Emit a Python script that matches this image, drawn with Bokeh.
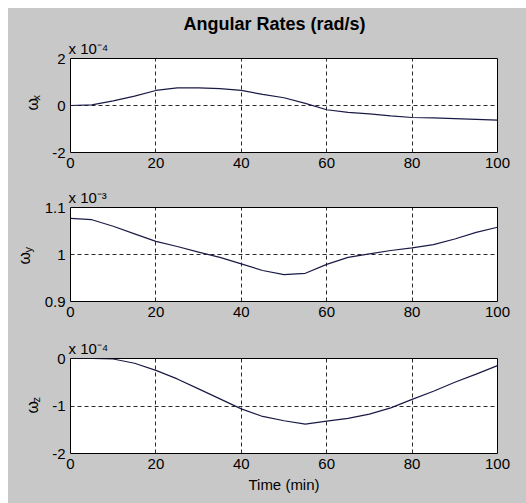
from bokeh.plotting import figure
from bokeh.layouts import column
from bokeh.models import Range1d, FixedTicker, CustomJSTickFormatter, Title
from bokeh.embed import file_html
from bokeh.resources import INLINE

# ---- data (values as displayed, i.e. in units of the axis multiplier) ----
time_min = [0, 5, 10, 15, 20, 25, 30, 35, 40, 45, 50, 55, 60, 65, 70, 75, 80, 85, 90, 95, 100]
wx_e4 = [0, 0.03, 0.2, 0.4, 0.64, 0.75, 0.75, 0.72, 0.64, 0.47, 0.33, 0.09, -0.18, -0.29,
         -0.36, -0.44, -0.51, -0.53, -0.56, -0.59, -0.62]
wy_e3 = [1.077, 1.074, 1.06, 1.044, 1.028, 1.017, 1.005, 0.994, 0.98, 0.966, 0.957, 0.96,
         0.979, 0.994, 1.0015, 1.0085, 1.014, 1.021, 1.033, 1.047, 1.058]
wz_e4 = [0, 0, -0.01, -0.1, -0.25, -0.43, -0.64, -0.85, -1.06, -1.22, -1.31, -1.38, -1.32,
         -1.26, -1.17, -1.04, -0.86, -0.69, -0.5, -0.33, -0.15]

x_ticks = [0, 20, 40, 60, 80, 100]
wx_ticks = [-2, 0, 2]
wy_ticks = [0.9, 1.0, 1.1]
wz_ticks = [-2, -1, 0]
multipliers = ["x 10\u207b\u2074", "x 10\u207b\u00b3", "x 10\u207b\u2074"]
subscripts = ["x", "y", "z"]
title_text = "Angular Rates (rad/s)"
x_label_text = "Time (min)"

BG = "#c8c8c8"
FONT = "Liberation Sans"
LINE = "#1a1a46"


def panel(height, top_b, bottom_b, yvals, yticks, sub, mult, om_off, sub_off):
    p = figure(width=518, height=height, x_range=Range1d(0, 100),
               y_range=Range1d(yticks[0], yticks[-1]),
               output_backend="svg", toolbar_location=None,
               min_border_left=62, min_border_right=29,
               min_border_top=top_b, min_border_bottom=bottom_b,
               background_fill_color="white", border_fill_color=BG,
               outline_line_color="black", outline_line_width=1)
    p.line(time_min, yvals, line_color=LINE, line_width=1.2)
    p.xaxis.ticker = FixedTicker(ticks=x_ticks)
    p.yaxis.ticker = FixedTicker(ticks=yticks)
    p.xaxis.formatter = CustomJSTickFormatter(code="return String(tick);")
    p.yaxis.formatter = CustomJSTickFormatter(code="return String(tick);")
    for ax in (p.xaxis, p.yaxis):
        ax.axis_line_color = None
        ax.major_tick_in = 0
        ax.major_tick_out = 0
        ax.minor_tick_line_color = None
        ax.major_label_text_font = FONT
        ax.major_label_text_font_size = "15px"
        ax.major_label_text_color = "black"
    p.xaxis.major_label_standoff = 5
    p.yaxis.major_label_standoff = 5
    p.xgrid.ticker = FixedTicker(ticks=x_ticks[1:-1])
    p.ygrid.ticker = FixedTicker(ticks=yticks[1:-1])
    for g in (p.xgrid, p.ygrid):
        g.grid_line_color = "#2a2a2a"
        g.grid_line_dash = "4 3"
        g.grid_line_width = 1
    # multiplier above the top-left corner
    p.add_layout(Title(text=mult, align="left", offset=-2, standoff=3,
                       text_font=FONT, text_font_size="15px",
                       text_font_style="normal", text_color="black"), "above")
    # y label: subscript (nearer the axis) then omega, overlapping slightly
    p.add_layout(Title(text=sub, align="left", offset=sub_off, standoff=15,
                       text_font=FONT, text_font_size="11px",
                       text_font_style="normal", text_color="black"), "left")
    p.add_layout(Title(text="\u03c9", align="left", offset=om_off, standoff=-41,
                       text_font=FONT, text_font_size="16px",
                       text_font_style="normal", text_color="black"), "left")
    return p


p1 = panel(172, 49, 28, wx_e4, wx_ticks, subscripts[0], multipliers[0], 42, 52)
p2 = panel(150, 27, 29, wy_e3, wy_ticks, subscripts[1], multipliers[1], 37, 49)
p3 = panel(173, 28, 50, wz_e4, wz_ticks, subscripts[2], multipliers[2], 40, 51)

p1.add_layout(Title(text=title_text, align="left", offset=113, standoff=6,
                    text_font=FONT, text_font_size="18px", text_font_style="bold",
                    text_color="black"), "above")
p3.xaxis.axis_label = x_label_text
p3.xaxis.axis_label_text_font = FONT
p3.xaxis.axis_label_text_font_size = "15px"
p3.xaxis.axis_label_text_font_style = "normal"
p3.xaxis.axis_label_text_color = "black"
p3.xaxis.axis_label_standoff = 4

layout = column(p1, p2, p3, spacing=0, margin=(8, 0, 0, 8),
                styles={"background-color": BG})
open("out.html", "w").write(file_html(layout, INLINE))
